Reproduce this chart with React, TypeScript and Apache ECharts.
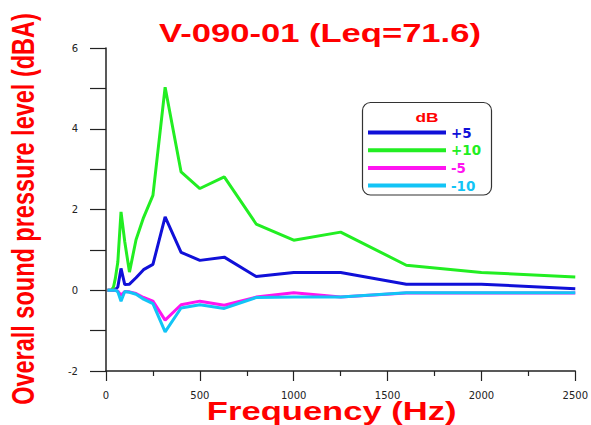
import React, { useEffect, useRef } from "react";
import * as echarts from "echarts";

const frequencies = [8, 16, 25, 31.5, 40, 50, 63, 80, 100, 125, 160, 200, 250, 315, 400, 500, 630, 800, 1000, 1250, 1600, 2000, 2500];
const plus5 = [0, 0, 0, 0, 0, 0.02, 0.08, 0.54, 0.14, 0.15, 0.31, 0.51, 0.64, 1.82, 0.94, 0.74, 0.82, 0.34, 0.44, 0.44, 0.15, 0.15, 0.04];
const plus10 = [0, 0, 0, 0.02, 0.08, 0.3, 0.7, 1.94, 1.2, 0.45, 1.25, 1.8, 2.35, 5.03, 2.93, 2.52, 2.81, 1.64, 1.24, 1.44, 0.62, 0.44, 0.33];
const minus5 = [0, 0, 0, 0, 0, 0, -0.02, -0.12, -0.03, -0.04, -0.08, -0.18, -0.27, -0.74, -0.36, -0.27, -0.37, -0.17, -0.06, -0.17, -0.07, -0.07, -0.07];
const minus10 = [0, 0, 0, 0, 0, 0, -0.04, -0.27, -0.03, -0.05, -0.1, -0.22, -0.33, -1.03, -0.44, -0.36, -0.45, -0.18, -0.17, -0.17, -0.06, -0.06, -0.06];

const seriesNames = ["+5", "+10", "-5", "-10"];
const seriesValues = [plus5, plus10, minus5, minus10];
const seriesColors = ["#1010d8", "#22ee22", "#ff14f0", "#12c4f6"];
const yTickLabels = ["-2", "0", "2", "4", "6"];

const titleText = "V-090-01 (Leq=71.6)";
const xName = "Frequency (Hz)";
const yName = "Overall sound pressure level (dBA)";
const legendTitle = "dB";

export default function App() {
  const ref = useRef<HTMLDivElement>(null);
  useEffect(() => {
    if (!ref.current) return;
    const chart = echarts.init(ref.current, undefined, { renderer: "svg" });
    const axisColor = "#222";
    chart.setOption({
      animation: false,
      backgroundColor: "#ffffff",
      grid: { left: 106, right: 14, top: 48, bottom: 54, containLabel: false },
      xAxis: {
        type: "value",
        min: 0,
        max: 2500,
        interval: 500,
        axisLine: { show: true, onZero: false, lineStyle: { color: axisColor, width: 1.5 } },
        axisTick: { show: true, length: 10, lineStyle: { color: axisColor, width: 1.2 } },
        minorTick: { show: true, splitNumber: 2, length: 5, lineStyle: { color: axisColor, width: 1.2 } },
        splitLine: { show: false },
        axisLabel: {
          margin: 19,
          color: "#222",
          fontSize: 10,
          fontFamily: "DejaVu Sans",
          formatter: (v: number) => String(v),
        },
      },
      yAxis: {
        type: "value",
        min: -2,
        max: 6,
        interval: 1,
        axisLine: { show: true, onZero: false, lineStyle: { color: axisColor, width: 1.5 } },
        axisTick: { show: true, length: 16, lineStyle: { color: axisColor, width: 1.2 } },
        splitLine: { show: false },
        axisLabel: {
          margin: 28,
          color: "#222",
          fontSize: 10,
          fontFamily: "DejaVu Sans",
          formatter: (v: number) => (yTickLabels.includes(String(v)) ? String(v) : ""),
        },
      },
      legend: {
        orient: "vertical",
        left: 368,
        top: 125.5,
        padding: 0,
        itemWidth: 78,
        itemHeight: 4,
        itemGap: 3.7,
        icon: "rect",
        textStyle: { fontFamily: "DejaVu Sans", fontWeight: "bold", fontSize: 13.5 },
        data: seriesNames.map((n, i) => ({ name: n, textStyle: { color: seriesColors[i] } })),
      },
      graphic: [
        {
          type: "rect",
          z: 0,
          shape: { x: 362.5, y: 102.5, width: 129, height: 92.5, r: 8 },
          style: { fill: "#ffffff", stroke: "#333", lineWidth: 1.2 },
        },
        {
          type: "text",
          x: 427,
          y: 117,
          scaleX: 1.33,
          style: {
            text: legendTitle,
            font: 'bold 13px "Liberation Sans", Arial, sans-serif',
            fill: "#ff0000",
            align: "center",
            verticalAlign: "middle",
          },
        },
        {
          type: "text",
          x: 320,
          y: 32.6,
          scaleX: 1.33,
          style: {
            text: titleText,
            font: 'bold 26px "Liberation Sans", Arial, sans-serif',
            fill: "#ff0000",
            align: "center",
            verticalAlign: "middle",
          },
        },
        {
          type: "text",
          x: 331.7,
          y: 411,
          scaleX: 1.33,
          style: {
            text: xName,
            font: 'bold 26px "Liberation Sans", Arial, sans-serif',
            fill: "#ff0000",
            align: "center",
            verticalAlign: "middle",
          },
        },
        {
          type: "text",
          x: 23.2,
          y: 209,
          rotation: Math.PI / 2,
          scaleY: 1.35,
          style: {
            text: yName,
            font: 'bold 23.5px "Liberation Sans", Arial, sans-serif',
            fill: "#ff0000",
            align: "center",
            verticalAlign: "middle",
          },
        },
      ],
      series: seriesNames.map((n, i) => ({
        name: n,
        type: "line",
        showSymbol: false,
        symbol: "none",
        data: frequencies.map((f, j) => [f, seriesValues[i][j]]),
        lineStyle: { width: 3, color: seriesColors[i] },
        itemStyle: { color: seriesColors[i] },
      })),
    });
    return () => chart.dispose();
  }, []);
  return (
    <div
      ref={ref}
      style={{ position: "fixed", left: 0, top: 0, width: 591, height: 425, background: "#fff" }}
    />
  );
}
